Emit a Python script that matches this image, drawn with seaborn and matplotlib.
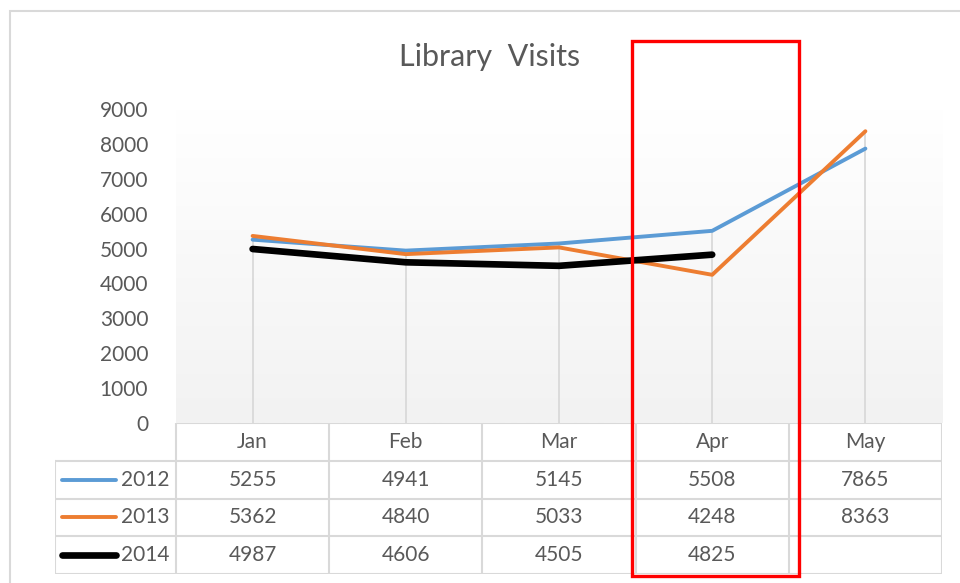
import numpy as np
import pandas as pd
import seaborn as sns
import matplotlib.pyplot as plt
from matplotlib.patches import Rectangle

months = ["Jan", "Feb", "Mar", "Apr", "May"]
years = ["2012", "2013", "2014"]
visits_2012 = [5255, 4941, 5145, 5508, 7865]
visits_2013 = [5362, 4840, 5033, 4248, 8363]
visits_2014 = [4987, 4606, 4505, 4825, np.nan]
colors = ["#5B9BD5", "#ED7D31", "#000000"]
widths = [2.8, 2.8, 4.8]

rows = []
for yr, vals in zip(years, [visits_2012, visits_2013, visits_2014]):
    for i, (m, v) in enumerate(zip(months, vals)):
        rows.append({"year": yr, "month": m, "pos": i, "visits": v})
df = pd.DataFrame(rows)

sns.set_theme(style="white")
plt.rcParams["font.family"] = ["Lato", "DejaVu Sans"]
txt = "#595959"
grid = "#d9d9d9"

W, H = 960, 583
fig = plt.figure(figsize=(W / 100, H / 100), dpi=100)

def fx(px):
    return px / W

def fy(py):
    return 1 - py / H

# main plot area
x0, x1 = 176, 942
ax = fig.add_axes([fx(x0), fy(423), fx(x1 - x0), fy(109) - fy(423)])
ax.set_xlim(-0.5, 4.5)
ax.set_ylim(0, 9000)

# soft gradient background
grad = np.linspace(1, 0, 256).reshape(-1, 1)
ax.imshow(grad, extent=[-0.5, 4.5, 0, 9000], aspect="auto", zorder=0,
          cmap=sns.blend_palette(["#f2f2f2", "#ffffff"], as_cmap=True), vmin=0, vmax=1)

# drop lines
tops = df.groupby("pos")["visits"].max()
for p, t in tops.items():
    ax.plot([p, p], [0, t], color=grid, lw=1.3, zorder=1)

for yr, c, w in zip(years, colors, widths):
    sub = df[df["year"] == yr].dropna()
    sns.lineplot(data=sub, x="pos", y="visits", color=c, linewidth=w, ax=ax,
                 solid_capstyle="round", solid_joinstyle="round", zorder=3)

ax.set_xticks([])
ax.set_yticks(range(0, 9001, 1000))
ax.tick_params(axis="y", length=0, pad=20, labelsize=15, labelcolor=txt)
ax.set_xlabel("")
ax.set_ylabel("")
for s in ax.spines.values():
    s.set_visible(False)

# data table under the chart
tl = 55
unit = (x1 - x0) / 5
tx = ax.get_xlim()[0] - (x0 - tl) / unit
tax = fig.add_axes([fx(tl), fy(574), fx(x1 - tl), fy(423) - fy(574)])
tax.set_xlim(tx, 4.5)
tax.set_ylim(4, 0)
tax.axis("off")

tax.plot([-0.5, 4.5], [0, 0], color=grid, lw=1.5)
for r in range(1, 5):
    tax.plot([tx, 4.5], [r, r], color=grid, lw=1.5)
for k in range(6):
    tax.plot([-0.5 + k, -0.5 + k], [0, 4], color=grid, lw=1.5)
tax.plot([tx, tx], [1, 4], color=grid, lw=1.5)

for i, m in enumerate(months):
    tax.text(i, 0.5, m, ha="center", va="center", fontsize=15, color=txt)

key_l = tx + (62 - tl) / unit
key_r = tx + (116 - tl) / unit
for r, (yr, vals, c, w) in enumerate(zip(years, [visits_2012, visits_2013, visits_2014], colors, widths)):
    yc = r + 1.5
    tax.plot([key_l, key_r], [yc, yc], color=c, lw=w, solid_capstyle="round")
    tax.text(-0.5 - 6 / unit, yc, yr, ha="right", va="center", fontsize=15, color=txt)
    for i, v in enumerate(vals):
        if not np.isnan(v):
            tax.text(i, yc, f"{int(v)}", ha="center", va="center", fontsize=15, color=txt)

fig.text(fx(490), fy(57), "Library  Visits", ha="center", va="center", fontsize=22, color=txt)

# chart frame and highlight box
fig.patches.append(Rectangle((fx(10), fy(590)), fx(970 - 10), fy(11) - fy(590),
                             transform=fig.transFigure, fill=False, ec=grid, lw=1.5))
fig.patches.append(Rectangle((fx(631.5), fy(575.5)), fx(798.5 - 631.5), fy(40.5) - fy(575.5),
                             transform=fig.transFigure, fill=False, ec="#ff0000", lw=2.4, zorder=10))

fig.savefig("out.png", dpi=100)
